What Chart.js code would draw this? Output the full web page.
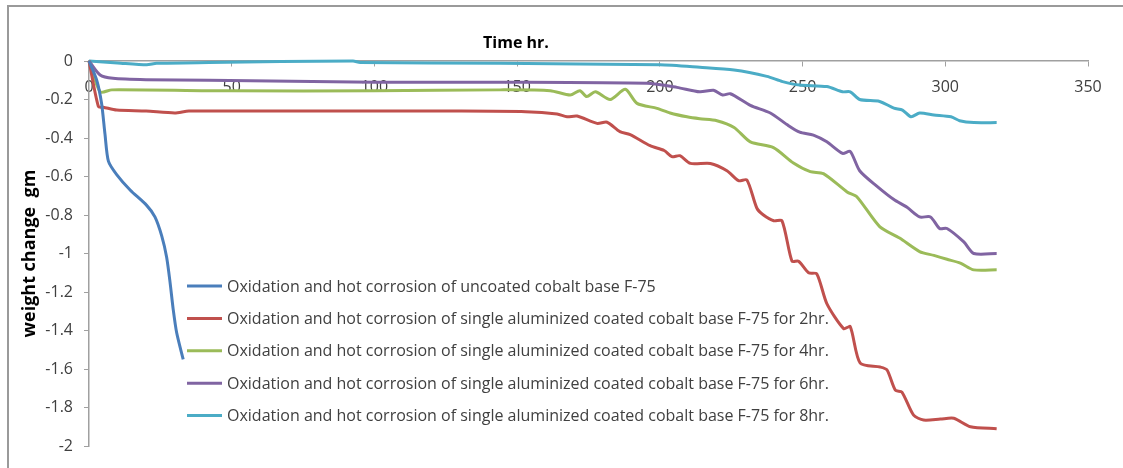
<!DOCTYPE html>
<html>
<head>
<meta charset="utf-8">
<title>Weight change vs time</title>
<script src="https://cdn.jsdelivr.net/npm/chart.js@4.4.1/dist/chart.umd.min.js"></script>
<style>
    html, body { margin: 0; padding: 0; background: #fff; }
    #wrap { position: relative; width: 1123px; height: 468px; }
    #frame {
        position: absolute; left: 7px; top: 5px; right: 0; bottom: 0;
        border-top: 2px solid #9a9a9a; border-left: 2px solid #9a9a9a;
        pointer-events: none;
    }
</style>
</head>
<body>
<div id="wrap">
    <canvas id="weightChart" width="1123" height="468"></canvas>
    <div id="frame"></div>
</div>
<script>
// series labels and colours (Excel 2007 palette)
const seriesLabels = [
    "Oxidation and hot corrosion of uncoated cobalt base F-75",
    "Oxidation and hot corrosion of single aluminized coated cobalt base F-75 for 2hr.",
    "Oxidation and hot corrosion of single aluminized coated cobalt base F-75 for 4hr.",
    "Oxidation and hot corrosion of single aluminized coated cobalt base F-75 for 6hr.",
    "Oxidation and hot corrosion of single aluminized coated cobalt base F-75 for 8hr."
];
const seriesColors = ["#4a7ebb", "#c0504d", "#9bbb59", "#8064a2", "#4bacc6"];

// time (hr) and weight change (gm)
const uncoatedTime = [0, 2.7, 4.4, 5.6, 6.8, 9.7, 14.4, 20.2, 23.1, 25.5, 27.2, 28.4, 29.5, 30.7, 33];
const uncoatedWeight = [0, -0.1, -0.22, -0.38, -0.52, -0.59, -0.67, -0.75, -0.81, -0.91, -1.02, -1.15, -1.29, -1.41, -1.55];

const coat2Time = [0, 3.3, 5, 9.7, 20, 30, 35, 50, 100, 126, 153, 164, 167.5, 171, 178, 181.5, 186, 189.6, 196.6, 201.5, 204.2, 207, 210.7, 217.7, 223.5, 227.6, 230.5, 234, 236.3, 239.9, 242.8, 246.3, 248.6, 252.1, 255, 258.5, 264.4, 266.7, 270.2, 277.2, 279.6, 282.5, 284.8, 288.9, 292.4, 298.3, 303, 308.8, 318];
const coat2Weight = [0, -0.237, -0.24, -0.255, -0.26, -0.27, -0.26, -0.26, -0.26, -0.26, -0.263, -0.275, -0.29, -0.286, -0.324, -0.318, -0.367, -0.382, -0.44, -0.465, -0.497, -0.492, -0.532, -0.532, -0.57, -0.622, -0.618, -0.765, -0.8, -0.83, -0.83, -1.04, -1.04, -1.1, -1.106, -1.26, -1.39, -1.38, -1.57, -1.59, -1.605, -1.71, -1.72, -1.84, -1.865, -1.86, -1.856, -1.9, -1.91];

const coat4Time = [0, 3.9, 8, 50, 100, 144, 161.6, 168.6, 172, 174.4, 177.4, 182.6, 187.9, 192, 199, 203.6, 209.5, 214, 220, 226, 231.7, 239.8, 246.8, 252.7, 257.3, 265.6, 269, 277, 284, 291, 296, 300.6, 305.3, 310, 318];
const coat4Weight = [0, -0.16, -0.15, -0.155, -0.155, -0.15, -0.154, -0.177, -0.154, -0.185, -0.16, -0.2, -0.147, -0.22, -0.246, -0.27, -0.29, -0.3, -0.31, -0.345, -0.42, -0.45, -0.53, -0.575, -0.585, -0.68, -0.705, -0.86, -0.92, -0.99, -1.01, -1.03, -1.05, -1.085, -1.085];

const coat6Time = [0, 3.9, 8.4, 20, 42, 100, 144, 195.5, 206, 214, 218.8, 222, 224.7, 231.7, 238.7, 244.5, 249, 253.8, 258.5, 264, 266.7, 270, 276, 282, 286.6, 291, 294.8, 298, 300.6, 306.5, 310, 318];
const coat6Weight = [0, -0.073, -0.09, -0.097, -0.1, -0.11, -0.11, -0.116, -0.137, -0.16, -0.152, -0.177, -0.17, -0.23, -0.27, -0.33, -0.37, -0.385, -0.42, -0.48, -0.47, -0.57, -0.65, -0.72, -0.76, -0.81, -0.81, -0.87, -0.87, -0.94, -1.0, -1.0];

const coat8Time = [0, 10, 20.2, 23.7, 42, 92.5, 95, 144, 200, 214, 226, 237.5, 243, 249, 258.5, 264, 266.7, 270, 277, 282, 285, 288, 291, 296, 302, 305, 310, 318];
const coat8Weight = [0, -0.01, -0.02, -0.012, -0.008, 0, -0.008, -0.012, -0.02, -0.033, -0.047, -0.08, -0.107, -0.125, -0.133, -0.16, -0.16, -0.2, -0.21, -0.245, -0.255, -0.29, -0.27, -0.28, -0.29, -0.31, -0.32, -0.32];

const allTimes = [uncoatedTime, coat2Time, coat4Time, coat6Time, coat8Time];
const allWeights = [uncoatedWeight, coat2Weight, coat4Weight, coat6Weight, coat8Weight];

// axis ranges
const xMin = 0, xMax = 350, xStep = 50;
const yMin = -2, yMax = 0, yStep = 0.2;

const fontFamily = '"Open Sans", "Liberation Sans", sans-serif';
const axisColor = "#a0a0a0";
const textColor = "#404040";

// pair up time/weight arrays into {x,y} points
toPoints = (times, weights) => times.map((t, i) => ({ x: t, y: weights[i] }));

var datasets = seriesLabels.map((label, i) => ({
    label: label,
    data: toPoints(allTimes[i], allWeights[i]),
    borderColor: seriesColors[i],
    backgroundColor: seriesColors[i],
    borderWidth: 3,
    pointRadius: 0,
    tension: 0.25,
    clip: 6
}));

// axis title on top + the legend block drawn inside the plot
const overlayPlugin = {
    id: "overlayText",
    afterDraw(chart) {
        const ctx = chart.ctx;
        ctx.save();
        ctx.textBaseline = "middle";

        ctx.font = "bold 16px " + fontFamily;
        ctx.fillStyle = "#000";
        ctx.textAlign = "center";
        ctx.fillText("Time hr.", 516, 43);

        ctx.font = "16px " + fontFamily;
        ctx.textAlign = "left";
        chart.data.datasets.forEach((ds, i) => {
            let y = 286 + i * 32.4;
            ctx.strokeStyle = ds.borderColor;
            ctx.lineWidth = 3;
            ctx.beginPath();
            ctx.moveTo(187, y);
            ctx.lineTo(222, y);
            ctx.stroke();
            ctx.fillStyle = textColor;
            ctx.fillText(ds.label, 227, y + 1);
        });
        ctx.restore();
    }
};

var weightChart = new Chart(document.getElementById("weightChart"), {
    type: "line",
    data: { datasets: datasets },
    plugins: [overlayPlugin],
    options: {
        responsive: false,
        animation: false,
        devicePixelRatio: 1,
        layout: { padding: { left: 17, right: 35, top: 61, bottom: 22 } },
        plugins: {
            legend: { display: false },
            tooltip: { enabled: false }
        },
        scales: {
            x: {
                type: "linear",
                position: { y: 0 },   // x axis sits on the zero line, at the top
                min: xMin,
                max: xMax,
                ticks: {
                    stepSize: xStep,
                    padding: 12,
                    color: textColor,
                    font: { family: fontFamily, size: 16 }
                },
                grid: { display: true, drawOnChartArea: false, drawTicks: true, tickLength: 5, color: axisColor },
                border: { display: true, color: axisColor, width: 1.5 }
            },
            y: {
                type: "linear",
                position: "left",
                min: yMin,
                max: yMax,
                afterFit: (scale) => { scale.width = 72; },
                ticks: {
                    stepSize: yStep,
                    padding: 11,
                    color: textColor,
                    font: { family: fontFamily, size: 16 },
                    callback: (v) => String(+v.toFixed(1))
                },
                grid: { display: true, drawOnChartArea: false, drawTicks: true, tickLength: 5, color: axisColor },
                border: { display: true, color: axisColor, width: 1.5 },
                title: {
                    display: true,
                    text: "weight change  gm",
                    color: "#000",
                    font: { family: fontFamily, size: 18, weight: "bold" },
                    padding: { top: 2, bottom: 4 }
                }
            }
        }
    }
});
</script>
</body>
</html>
